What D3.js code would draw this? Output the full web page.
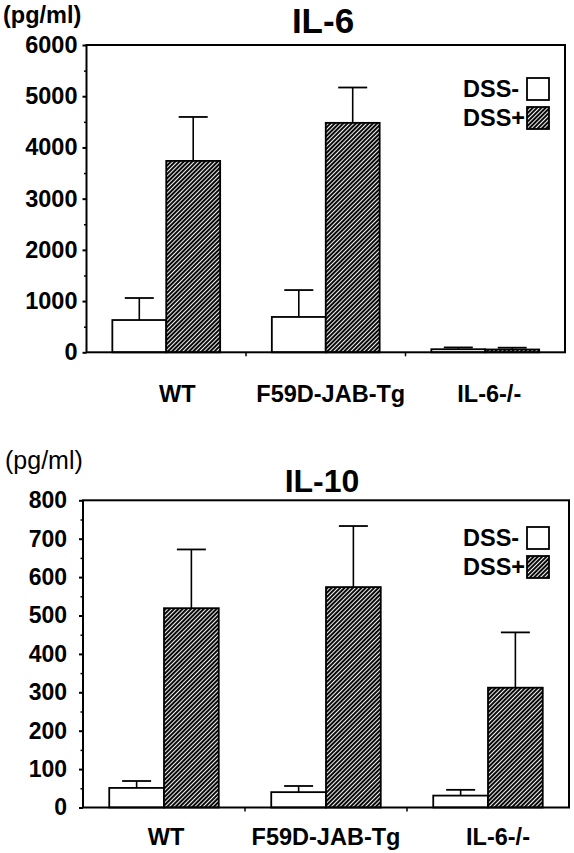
<!DOCTYPE html>
<html><head><meta charset="utf-8">
<script src="https://cdn.jsdelivr.net/npm/d3@7"></script>
<style>
html,body{margin:0;padding:0;background:#fff;}
svg{display:block;font-family:"Liberation Sans",Arial,Helvetica,sans-serif;}
</style></head>
<body>
<script>
// ---- data ----
const categories = ["WT", "F59D-JAB-Tg", "IL-6-/-"];
const seriesNames = ["DSS-", "DSS+"];
// IL-6 (pg/ml)
const il6Minus = [630, 690, 60];
const il6MinusErr = [430, 525, 35];
const il6Plus = [3737, 4480, 55];
const il6PlusErr = [858, 690, 35];
const il6Ticks = [0, 1000, 2000, 3000, 4000, 5000, 6000];
// IL-10 (pg/ml)
const il10Minus = [51, 40, 31];
const il10MinusErr = [18, 16, 15];
const il10Plus = [519, 574, 312];
const il10PlusErr = [153, 159, 144];
const il10Ticks = [0, 100, 200, 300, 400, 500, 600, 700, 800];

const W = 574, H = 853;
const svg = d3.select("body").append("svg").attr("width", W).attr("height", H);
svg.append("rect").attr("width", W).attr("height", H).attr("fill", "#fff");

const defs = svg.append("defs");
const pat = defs.append("pattern").attr("id", "hatch").attr("patternUnits", "userSpaceOnUse")
  .attr("width", 3).attr("height", 3).attr("patternTransform", "rotate(45)");
pat.append("rect").attr("width", 3).attr("height", 3).attr("fill", "#0a0a0a");
pat.append("line").attr("x1", 1.5).attr("y1", 0).attr("x2", 1.5).attr("y2", 3)
  .attr("stroke", "#fff").attr("stroke-width", 0.95);

function drawChart(cfg) {
  const g = svg.append("g");
  const x0 = d3.scaleBand().domain(categories).range([cfg.left, cfg.right]).padding(0);
  const y = d3.scaleLinear().domain([0, cfg.max]).range([cfg.bottom, cfg.top]);
  const bw = x0.bandwidth();
  const barW = bw * 0.338;
  const x1 = d3.scaleBand().domain(seriesNames).range([bw / 2 - barW, bw / 2 + barW]).padding(0);

  const rows = categories.map((c, i) => ({
    cat: c,
    vals: [
      {s: "DSS-", v: cfg.minus[i], e: cfg.minusErr[i]},
      {s: "DSS+", v: cfg.plus[i], e: cfg.plusErr[i]}
    ]
  }));

  // minor ticks
  g.append("g").attr("transform", `translate(${cfg.left},0)`)
    .call(d3.axisLeft(y).tickValues(cfg.minor).tickSize(2.5).tickFormat(""))
    .call(a => a.select(".domain").remove())
    .call(a => a.selectAll("line").attr("stroke", "#000").attr("stroke-width", 1.5));

  // major axis
  g.append("g").attr("transform", `translate(${cfg.left},0)`)
    .call(d3.axisLeft(y).tickValues(cfg.ticks).tickSize(4).tickPadding(cfg.tickPad).tickFormat(d3.format("d")))
    .call(a => a.select(".domain").remove())
    .call(a => a.selectAll("line").attr("stroke", "#000").attr("stroke-width", 2))
    .call(a => a.selectAll("text").attr("fill", "#000").attr("font-size", cfg.tickFont)
      .attr("font-weight", "bold").attr("font-family", "Liberation Sans, Arial, sans-serif"));

  // category separator ticks on bottom axis
  g.selectAll(".sep").data(categories.slice(1)).enter().append("line")
    .attr("x1", d => x0(d)).attr("x2", d => x0(d))
    .attr("y1", cfg.bottom).attr("y2", cfg.bottom + 4)
    .attr("stroke", "#000").attr("stroke-width", 1.5);

  // bars
  const grp = g.selectAll(".grp").data(rows).enter().append("g")
    .attr("transform", d => `translate(${x0(d.cat)},0)`);
  // error bars (up only)
  grp.selectAll(".eb").data(d => d.vals).enter().append("line")
    .attr("x1", d => x1(d.s) + x1.bandwidth() / 2).attr("x2", d => x1(d.s) + x1.bandwidth() / 2)
    .attr("y1", d => y(d.v)).attr("y2", d => y(d.v + d.e))
    .attr("stroke", "#000").attr("stroke-width", 1.6);
  grp.selectAll(".cap").data(d => d.vals).enter().append("line")
    .attr("x1", d => x1(d.s) + x1.bandwidth() / 2 - 14.5).attr("x2", d => x1(d.s) + x1.bandwidth() / 2 + 14.5)
    .attr("y1", d => y(d.v + d.e)).attr("y2", d => y(d.v + d.e))
    .attr("stroke", "#000").attr("stroke-width", 1.8);
  grp.selectAll(".bar").data(d => d.vals).enter().append("rect")
    .attr("x", d => x1(d.s)).attr("width", x1.bandwidth())
    .attr("y", d => y(d.v)).attr("height", d => y(0) - y(d.v))
    .attr("fill", d => d.s === "DSS-" ? "#fff" : "url(#hatch)")
    .attr("stroke", "#000").attr("stroke-width", 1.8);

  // frame
  g.append("rect").attr("x", cfg.left).attr("y", cfg.top)
    .attr("width", cfg.right - cfg.left).attr("height", cfg.bottom - cfg.top)
    .attr("fill", "none").attr("stroke", "#000").attr("stroke-width", 2);

  // category labels
  g.selectAll(".cl").data(categories).enter().append("text")
    .attr("x", (d, i) => x0(d) + bw / 2 + cfg.labDx[i]).attr("y", cfg.labY)
    .attr("text-anchor", "middle").attr("font-size", 23.5).attr("font-weight", "bold").text(d => d);

  // title
  g.append("text").attr("x", cfg.titleX).attr("y", cfg.titleY).attr("text-anchor", "middle")
    .attr("font-size", cfg.titleSize).attr("font-weight", "bold").text(cfg.title);
  // unit
  g.append("text").attr("x", cfg.unitX).attr("y", cfg.unitY)
    .attr("font-size", cfg.unitSize).attr("font-weight", cfg.unitWeight).text("(pg/ml)");

  // legend
  seriesNames.forEach((s, i) => {
    const ly = cfg.legY + i * 29;
    g.append("text").attr("x", 463).attr("y", ly + 8).attr("font-size", 23.5)
      .attr("font-weight", "bold").text(s);
    g.append("rect").attr("x", 527).attr("y", ly - 11).attr("width", 22).attr("height", 22)
      .attr("fill", s === "DSS-" ? "#fff" : "url(#hatch)").attr("stroke", "#000").attr("stroke-width", 1.8);
  });
}

drawChart({
  left: 86.5, right: 565, top: 45, bottom: 352.3, max: 6000,
  ticks: il6Ticks, minor: d3.range(500, 6000, 1000), tickPad: 5, tickFont: 23.5,
  minus: il6Minus, minusErr: il6MinusErr, plus: il6Plus, plusErr: il6PlusErr,
  labY: 402, labDx: [11, 5, 4],
  title: "IL-6", titleX: 323, titleY: 33, titleSize: 35,
  unitX: 3, unitY: 23, unitSize: 23.5, unitWeight: "bold",
  legY: 89
});

drawChart({
  left: 83, right: 569, top: 500.3, bottom: 807.5, max: 800,
  ticks: il10Ticks, minor: d3.range(50, 800, 100), tickPad: 12, tickFont: 23,
  minus: il10Minus, minusErr: il10MinusErr, plus: il10Plus, plusErr: il10PlusErr,
  labY: 845, labDx: [2, 0, 10],
  title: "IL-10", titleX: 322, titleY: 492, titleSize: 32,
  unitX: 5, unitY: 469, unitSize: 25, unitWeight: "normal",
  legY: 538
});
</script>
</body></html>
